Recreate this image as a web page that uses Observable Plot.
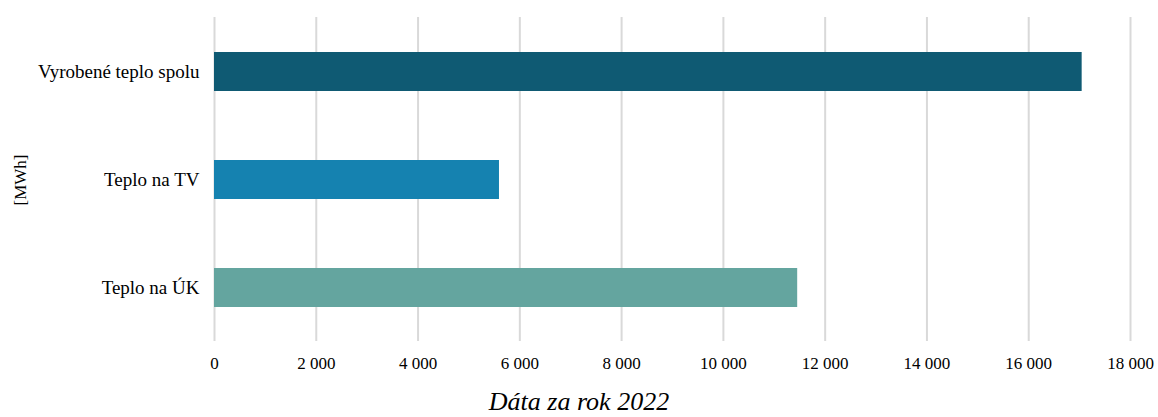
<!DOCTYPE html>
<html>
<head>
<meta charset="utf-8">
<script src="https://cdn.jsdelivr.net/npm/d3@7"></script>
<script src="https://cdn.jsdelivr.net/npm/@observablehq/plot@0.6"></script>
<style>
  html, body { margin: 0; padding: 0; background: #fff; }
  #chart svg { display: block; }
</style>
</head>
<body>
<div id="chart"></div>
<script>
const categories = ["Vyrobené teplo spolu", "Teplo na TV", "Teplo na ÚK"];
const values = [17050, 5600, 11460];
const colors = ["#0F5A73", "#1582B0", "#64A59F"];
const xTicks = [0, 2000, 4000, 6000, 8000, 10000, 12000, 14000, 16000, 18000];
const xTitle = "Dáta za rok 2022";
const yTitle = "[MWh]";

const data = categories.map((c, i) => ({category: c, value: values[i], color: colors[i]}));
const fmt = d3.formatLocale({decimal: ",", thousands: " ", grouping: [3], currency: ["", ""]}).format(",d");

const W = 1158, H = 417;
const plot = Plot.plot({
  width: W,
  height: H,
  marginLeft: 214,
  marginRight: 28,
  marginTop: 17,
  marginBottom: 76,
  style: {fontFamily: "'Liberation Serif', 'Times New Roman', serif", fontSize: "17px", color: "#000", background: "#fff"},
  x: {domain: [0, 18000], ticks: xTicks, tickFormat: fmt, label: null},
  y: {domain: categories, paddingInner: 0.64, paddingOuter: 0.32, label: null},
  marks: [
    Plot.ruleX(xTicks, {stroke: "#d9d9d9", strokeWidth: 2}),
    Plot.barX(data, {x: "value", y: "category", fill: "color"}),
    Plot.axisX({ticks: xTicks, tickFormat: fmt, tickSize: 0, tickPadding: 15, fontSize: 17, label: null}),
    Plot.axisY({tickSize: 0, tickPadding: 15, fontSize: 19, label: null})
  ]
});
document.getElementById("chart").appendChild(plot);

const svg = d3.select(plot);
svg.append("text")
  .attr("x", W / 2)
  .attr("y", 410)
  .attr("text-anchor", "middle")
  .style("font-family", "'Liberation Serif', 'Times New Roman', serif")
  .style("font-style", "italic")
  .style("font-size", "26px")
  .attr("fill", "#000")
  .text(xTitle);
svg.append("text")
  .attr("transform", "translate(26,180) rotate(-90)")
  .attr("text-anchor", "middle")
  .style("font-family", "'Liberation Serif', 'Times New Roman', serif")
  .style("font-size", "17px")
  .attr("fill", "#000")
  .text(yTitle);
</script>
</body>
</html>
